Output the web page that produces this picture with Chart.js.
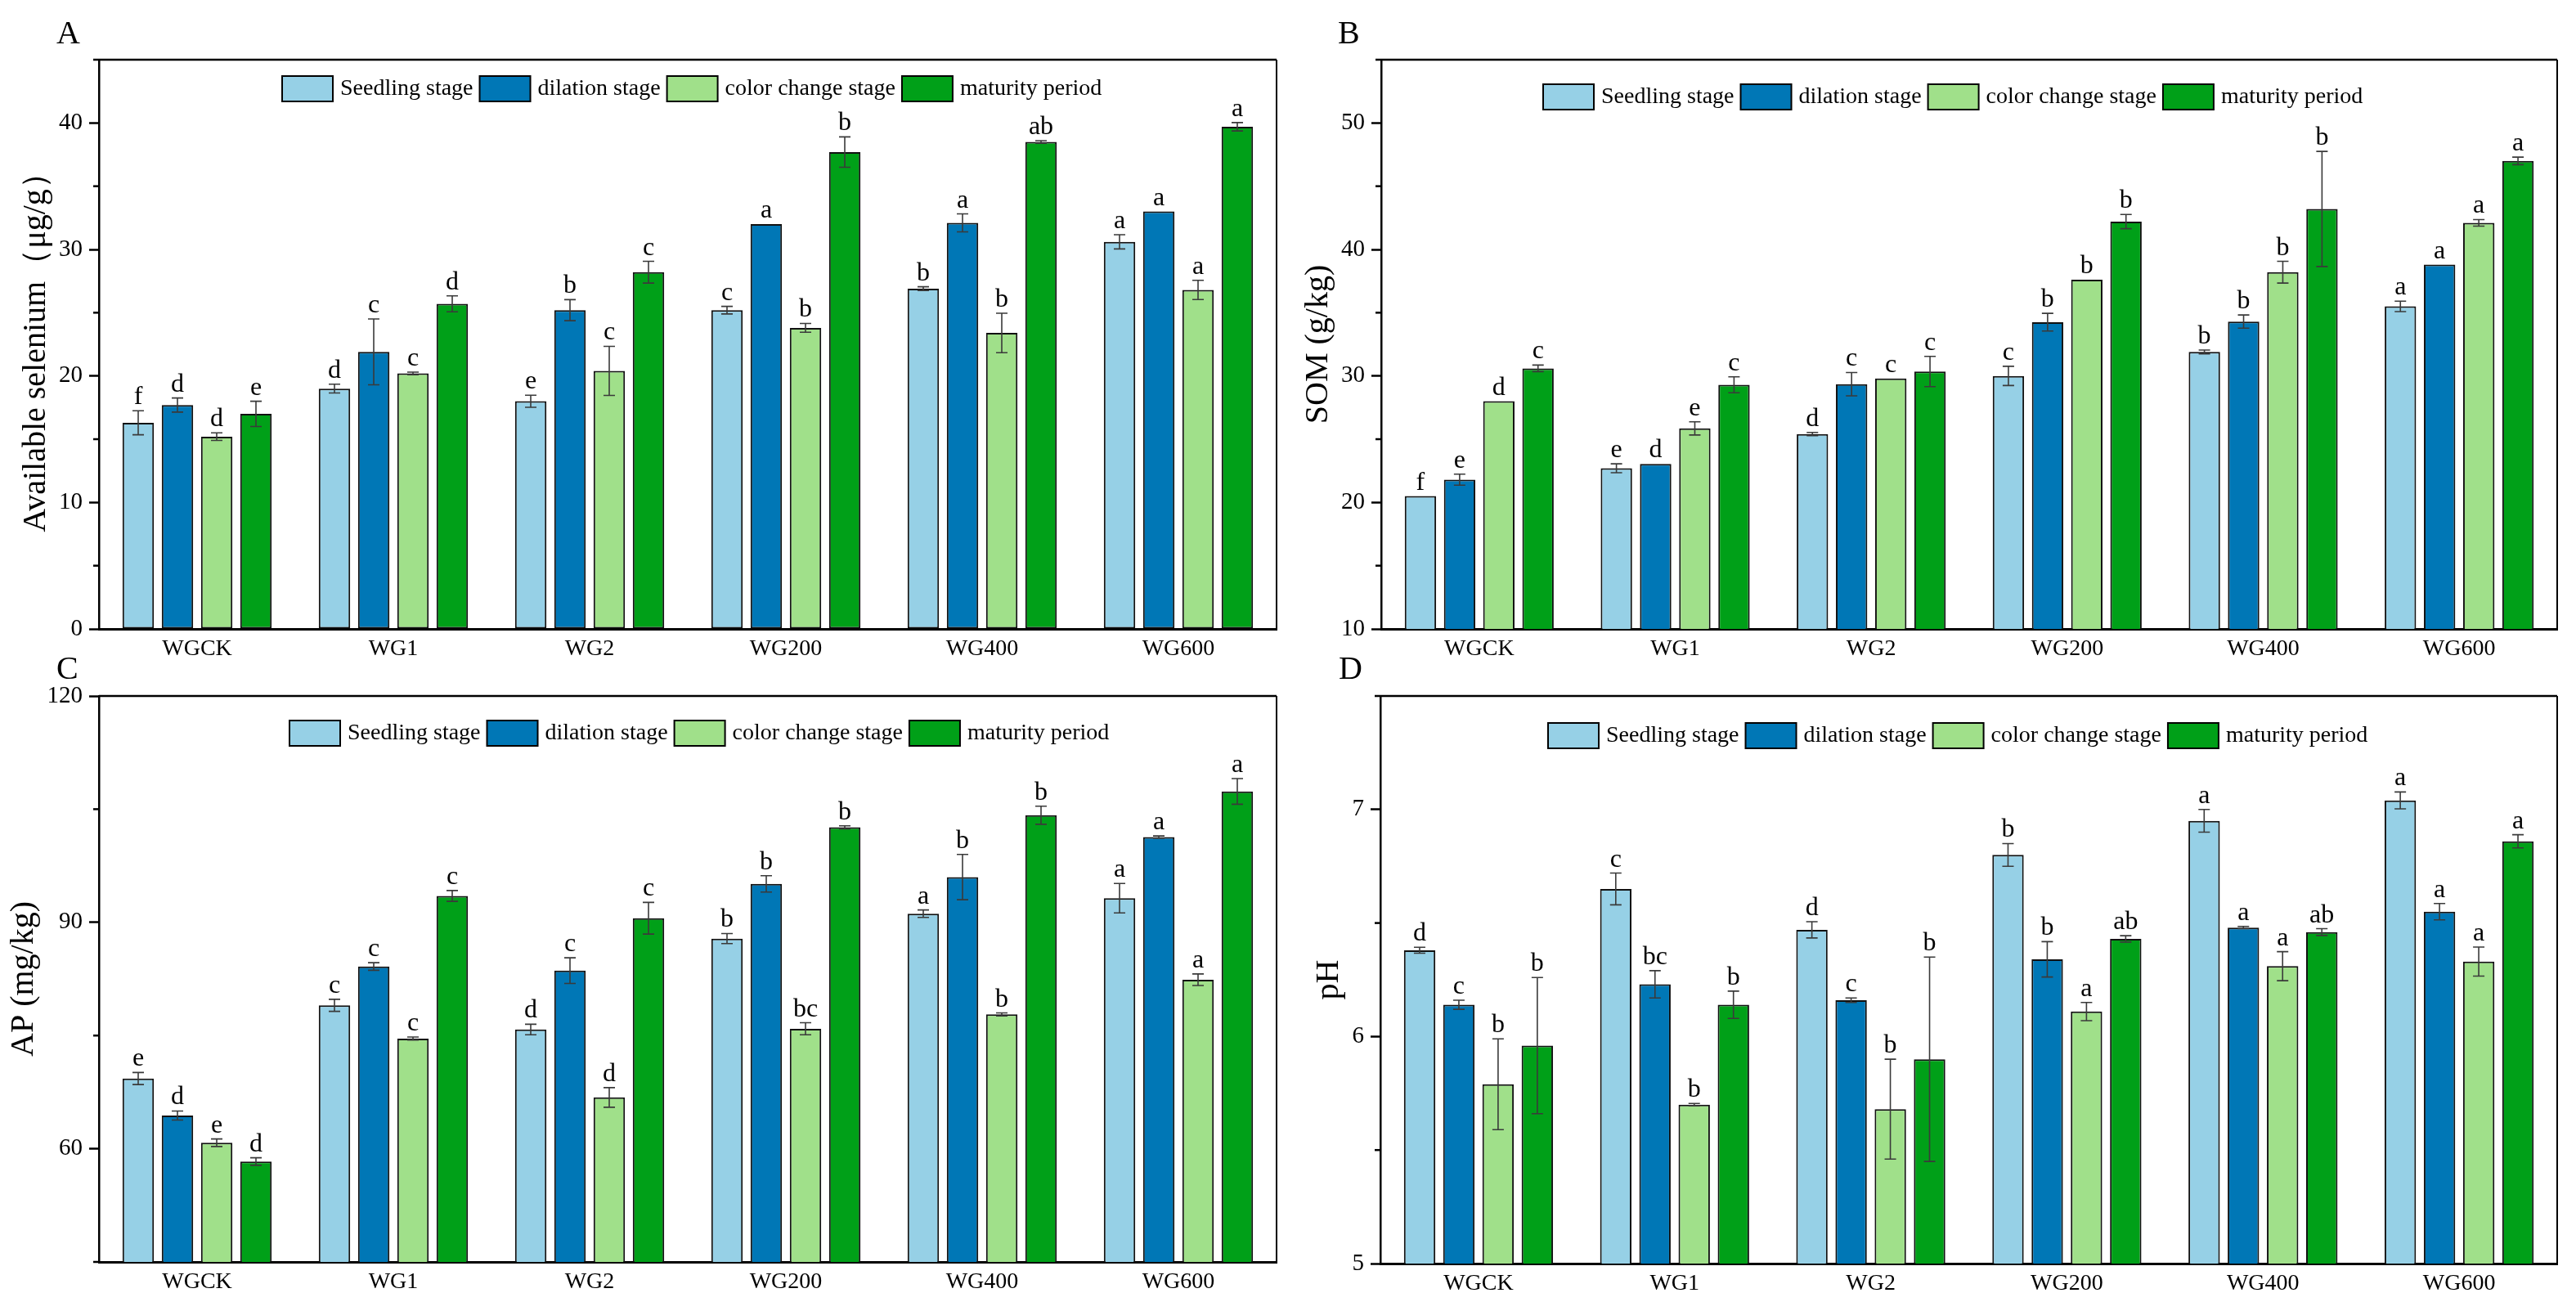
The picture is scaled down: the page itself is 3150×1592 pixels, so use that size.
<!DOCTYPE html>
<html>
<head>
<meta charset="utf-8">
<script src="https://cdn.jsdelivr.net/npm/chart.js@4.4.1/dist/chart.umd.min.js"></script>
<style>
html, body { margin: 0; padding: 0; background: #fff; }
#wrap { position: relative; width: 3150px; height: 1592px; }
#wrap canvas { position: absolute; left: 0; top: 0; }
</style>
</head>
<body>
<div id="wrap">
	<canvas id="chartA" width="3150" height="1592"></canvas>
	<canvas id="chartB" width="3150" height="1592"></canvas>
	<canvas id="chartC" width="3150" height="1592"></canvas>
	<canvas id="chartD" width="3150" height="1592"></canvas>
</div>
<script>
var groups = ['WGCK', 'WG1', 'WG2', 'WG200', 'WG400', 'WG600'];
var stages = ['Seedling stage', 'dilation stage', 'color change stage', 'maturity period'];
var stageColors = ['#96D0E6', '#0077B6', '#A0E08A', '#00A018'];

// A - available selenium, one row per stage
var seleniumMean = [
	[16.3, 19.0, 18.0, 25.2, 26.9, 30.6],
	[17.7, 21.9, 25.2, 32.0, 32.1, 33.0],
	[15.2, 20.2, 20.4, 23.8, 23.4, 26.8],
	[17.0, 25.7, 28.2, 37.7, 38.5, 39.7]
];
var seleniumErr = [
	[0.95, 0.35, 0.48, 0.3, 0.15, 0.56],
	[0.56, 2.6, 0.83, 0, 0.71, 0],
	[0.3, 0.1, 1.94, 0.35, 1.56, 0.76],
	[1.0, 0.63, 0.86, 1.2, 0.1, 0.33]
];
var seleniumSig = [
	['f', 'd', 'e', 'c', 'b', 'a'],
	['d', 'c', 'b', 'a', 'a', 'a'],
	['d', 'c', 'c', 'b', 'b', 'a'],
	['e', 'd', 'c', 'b', 'ab', 'a']
];
var seleniumTicks = [0, 10, 20, 30, 40];

// B - SOM
var somMean = [
	[20.5, 22.7, 25.4, 30.0, 31.9, 35.5],
	[21.8, 23.05, 29.35, 34.25, 34.3, 38.8],
	[28.0, 25.85, 29.8, 37.6, 38.2, 42.1],
	[30.6, 29.3, 30.35, 42.2, 43.2, 47.0]
];
var somErr = [
	[0, 0.35, 0.13, 0.76, 0.15, 0.41],
	[0.44, 0, 0.92, 0.7, 0.52, 0],
	[0, 0.52, 0, 0, 0.86, 0.26],
	[0.26, 0.63, 1.2, 0.56, 4.55, 0.3]
];
var somSig = [
	['f', 'e', 'd', 'c', 'b', 'a'],
	['e', 'd', 'c', 'b', 'b', 'a'],
	['d', 'e', 'c', 'b', 'b', 'a'],
	['c', 'c', 'c', 'b', 'b', 'a']
];
var somTicks = [10, 20, 30, 40, 50];

// C - AP
var apMean = [
	[69.3, 79.0, 75.8, 87.85, 91.15, 93.2],
	[64.4, 84.15, 83.6, 95.1, 96.0, 101.3],
	[60.8, 74.6, 66.8, 75.9, 77.8, 82.4],
	[58.3, 93.5, 90.55, 102.6, 104.2, 107.35]
];
var apErr = [
	[0.8, 0.8, 0.7, 0.67, 0.5, 1.95],
	[0.6, 0.5, 1.7, 1.08, 3.0, 0.15],
	[0.5, 0.2, 1.3, 0.8, 0.2, 0.76],
	[0.5, 0.72, 2.1, 0.2, 1.2, 1.7]
];
var apSig = [
	['e', 'c', 'd', 'b', 'a', 'a'],
	['d', 'c', 'c', 'b', 'b', 'a'],
	['e', 'c', 'd', 'bc', 'b', 'a'],
	['d', 'c', 'c', 'b', 'b', 'a']
];
var apTicks = [60, 90, 120];

// D - pH
var phMean = [
	[6.38, 6.65, 6.47, 6.80, 6.95, 7.04],
	[6.14, 6.23, 6.16, 6.34, 6.48, 6.55],
	[5.79, 5.70, 5.68, 6.11, 6.31, 6.33],
	[5.96, 6.14, 5.90, 6.43, 6.46, 6.86]
];
var phErr = [
	[0.013, 0.07, 0.036, 0.05, 0.05, 0.037],
	[0.02, 0.06, 0.01, 0.078, 0.005, 0.036],
	[0.2, 0.005, 0.22, 0.04, 0.064, 0.064],
	[0.3, 0.06, 0.45, 0.014, 0.015, 0.029]
];
var phSig = [
	['d', 'c', 'd', 'b', 'a', 'a'],
	['c', 'bc', 'c', 'b', 'a', 'a'],
	['b', 'b', 'b', 'a', 'a', 'a'],
	['b', 'b', 'b', 'ab', 'ab', 'a']
];
var phTicks = [5, 6, 7];

var FONT = "'Liberation Serif', 'Times New Roman', serif";

// error bars, letters, frame, minor ticks, legend and panel letter
var decor = {
	id: 'decor',
	afterDatasetsDraw: function(chart, args, o) {
		var ctx = chart.ctx, ys = chart.scales.y;
		ctx.save();
		chart.data.datasets.forEach(function(ds, i) {
			chart.getDatasetMeta(i).data.forEach(function(bar, j) {
				var v = ds.data[j], e = o.err[i][j];
				var top = ys.getPixelForValue(v + e);
				if (e > 0) {
					var bot = ys.getPixelForValue(v - e);
					ctx.strokeStyle = '#3a3a3a';
					ctx.lineWidth = 1.6;
					ctx.beginPath();
					ctx.moveTo(bar.x, top); ctx.lineTo(bar.x, bot);
					ctx.moveTo(bar.x - 7, top); ctx.lineTo(bar.x + 7, top);
					ctx.moveTo(bar.x - 7, bot); ctx.lineTo(bar.x + 7, bot);
					ctx.stroke();
				}
				ctx.fillStyle = '#000';
				ctx.font = '32px ' + FONT;
				ctx.textAlign = 'center';
				ctx.textBaseline = 'alphabetic';
				ctx.fillText(o.sig[i][j], bar.x, top - 8);
			});
		});
		ctx.restore();
	},
	afterDraw: function(chart, args, o) {
		var ctx = chart.ctx, a = chart.chartArea, ys = chart.scales.y;
		ctx.save();
		ctx.strokeStyle = '#000';
		ctx.lineWidth = 2.5;
		ctx.beginPath(); ctx.moveTo(a.left, a.top); ctx.lineTo(a.right, a.top); ctx.stroke();
		ctx.lineWidth = 2;
		ctx.beginPath(); ctx.moveTo(a.right, a.top); ctx.lineTo(a.right, a.bottom); ctx.stroke();

		// minor ticks half way between the labelled ones
		var t = ys.ticks, step = t[1].value - t[0].value;
		ctx.lineWidth = 2.5;
		for (var v = t[0].value - step / 2; v <= ys.max + 1e-9; v += step) {
			if (v < ys.min - 1e-9) continue;
			var py = ys.getPixelForValue(v);
			ctx.beginPath(); ctx.moveTo(a.left - 7, py); ctx.lineTo(a.left, py); ctx.stroke();
		}

		// legend inside the plot
		ctx.font = '28px ' + FONT;
		ctx.textAlign = 'left';
		ctx.textBaseline = 'middle';
		var x = a.left + o.legendX, y = a.top + o.legendY;
		chart.data.datasets.forEach(function(ds) {
			ctx.fillStyle = ds.backgroundColor;
			ctx.fillRect(x, y, 62, 31);
			ctx.lineWidth = 2;
			ctx.strokeStyle = '#000';
			ctx.strokeRect(x, y, 62, 31);
			x += 62 + 9;
			ctx.fillStyle = '#000';
			ctx.fillText(ds.label, x, y + 16);
			x += ctx.measureText(ds.label).width + 8;
		});

		ctx.font = '40px ' + FONT;
		ctx.textBaseline = 'alphabetic';
		ctx.fillText(o.letter, o.letterX, o.letterY);
		ctx.restore();
	}
};

function makeChart(id, p) {
	var datasets = [];
	for (var i = 0; i < stages.length; i++) {
		datasets.push({
			label: stages[i],
			data: p.mean[i],
			backgroundColor: stageColors[i],
			borderColor: '#111',
			borderWidth: 2,
			borderSkipped: false
		});
	}
	return new Chart(document.getElementById(id), {
		type: 'bar',
		data: { labels: groups, datasets: datasets },
		plugins: [decor],
		options: {
			responsive: false,
			animation: false,
			devicePixelRatio: 1,
			categoryPercentage: 0.8,
			barPercentage: 0.8,
			layout: {
				padding: { left: p.axisLeft, top: p.top, right: 3150 - p.right, bottom: 1592 - p.bottom - 40 }
			},
			plugins: {
				legend: { display: false },
				tooltip: { enabled: false },
				decor: {
					err: p.err, sig: p.sig,
					legendX: p.legendX, legendY: p.legendY,
					letter: p.letter, letterX: p.letterX, letterY: p.letterY
				}
			},
			scales: {
				x: {
					ticks: { font: { family: FONT, size: 28 }, color: '#000', padding: 8, maxRotation: 0, autoSkip: false },
					grid: { display: false, drawTicks: false },
					border: { display: true, color: '#000', width: 3 },
					afterFit: function(s) { s.height = 40; }
				},
				y: {
					min: p.min,
					max: p.max,
					afterBuildTicks: function(s) { s.ticks = p.ticks.map(function(v) { return { value: v }; }); },
					ticks: { font: { family: FONT, size: 29 }, color: '#000', padding: 8 },
					grid: { drawOnChartArea: false, drawTicks: true, tickLength: 12, tickWidth: 2.5, tickColor: '#000' },
					border: { display: true, color: '#000', width: 2.5 },
					title: { display: true, text: p.title, font: { family: FONT, size: 40 }, color: '#000', padding: 0 },
					afterFit: function(s) { s.width = p.axisWidth; }
				}
			}
		}
	});
}

makeChart('chartA', {
	mean: seleniumMean, err: seleniumErr, sig: seleniumSig, ticks: seleniumTicks,
	min: 0, max: 45, title: 'Available selenium\uFF08\u03BCg/g\uFF09',
	axisLeft: 20, axisWidth: 101, top: 73, right: 1561, bottom: 769,
	legendX: 224, legendY: 20, letter: 'A', letterX: 69, letterY: 53
});
makeChart('chartB', {
	mean: somMean, err: somErr, sig: somSig, ticks: somTicks,
	min: 10, max: 55, title: 'SOM (g/kg)',
	axisLeft: 1588, axisWidth: 101, top: 73, right: 3127, bottom: 769,
	legendX: 198, legendY: 30, letter: 'B', letterX: 1636, letterY: 53
});
makeChart('chartC', {
	mean: apMean, err: apErr, sig: apSig, ticks: apTicks,
	min: 45, max: 120, title: 'AP (mg/kg)',
	axisLeft: 5, axisWidth: 116, top: 851, right: 1561, bottom: 1543,
	legendX: 233, legendY: 30, letter: 'C', letterX: 69, letterY: 830
});
makeChart('chartD', {
	mean: phMean, err: phErr, sig: phSig, ticks: phTicks,
	min: 5, max: 7.5, title: 'pH',
	axisLeft: 1601, axisWidth: 87, top: 851, right: 3127, bottom: 1545,
	legendX: 205, legendY: 33, letter: 'D', letterX: 1637, letterY: 830
});
</script>
</body>
</html>
